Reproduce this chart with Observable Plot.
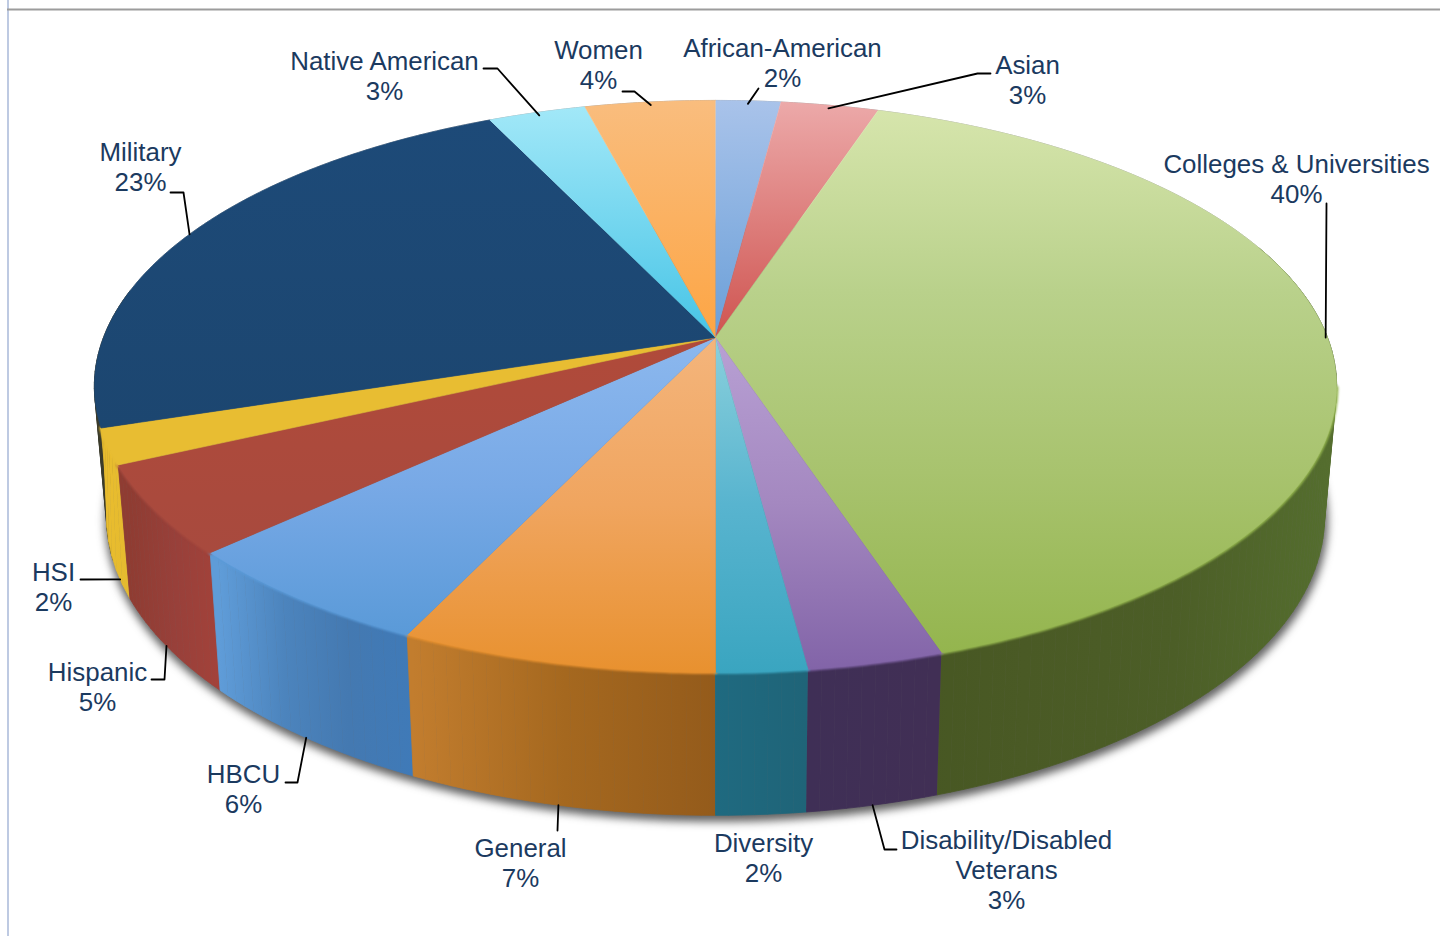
<!DOCTYPE html>
<html>
<head>
<meta charset="utf-8">
<title>Share of programs by category</title>
<script src="https://cdn.jsdelivr.net/npm/d3@7"></script>
<script src="https://cdn.jsdelivr.net/npm/@observablehq/plot@0.6"></script>
<style>
  html, body { margin: 0; padding: 0; background: #fff; }
  svg { display: block; }
</style>
</head>
<body>
<div id="chart"></div>
<script>
// Slices, clockwise from twelve o'clock.
const categories = ["African-American", "Asian", "Colleges & Universities", "Disability/Disabled\nVeterans",
  "Diversity", "General", "HBCU", "Hispanic", "HSI", "Military", "Native American", "Women"];
const shares = [2, 3, 40, 3, 2, 7, 6, 5, 2, 23, 3, 4];

// Colours of the top face (first to last stop down the slice) and of the outer wall (left to right).
const topStops = [
  ["#a9c3ea", "#6a9fd8"], ["#eca9a9", "#cf5450"], ["#d6e5ac", "#b9d18b", "#a8c36e", "#94b54e"], ["#b8a0d4", "#a488c0", "#8264a8"],
  ["#8ad0dc", "#58b4cf", "#3aa5c0"], ["#f4b57c", "#f0a55f", "#e8912f"], ["#8cb8ee", "#78a9e6", "#5a9ad8"], ["#b04a3a", "#a84a3e"], ["#e8bd32", "#e8bd32"],
  ["#1d4a78", "#1c4670"], ["#a2e8f8", "#46c4e6"], ["#f9bd7e", "#fda544"]
];
const wallStops = [
  ["#5a7fb0", "#5a7fb0"], ["#8f3a38", "#8f3a38"], ["#465622", "#4a5a25", "#4c5e27", "#546d2e"], ["#3f2f56", "#412f55"],
  ["#1f6a80", "#1f6478"], ["#c27d2e", "#a5681f", "#945b1b"], ["#5f9cd8", "#4c84bd", "#4479b1", "#3f7ab8"], ["#8f3c32", "#98403a", "#a3423a"], ["#e8bc2e", "#e4ba30"],
  ["#3a3a2a", "#3a3a2a"], ["#2a8aa8", "#2a8aa8"], ["#c07a2a", "#c07a2a"]
];

// Where each label sits and how its leader runs to the rim: label centre, leader vertices, rim used, radial reach.
const labelPlacement = [
  {cx: 782, cy: 62, leader: [[758, 88]], rim: "top", reach: 0.985},
  {cx: 1027, cy: 79, leader: [[990, 73], [977, 73]], rim: "top", reach: 0.985},
  {cx: 1296, cy: 178, leader: [[1326, 203]], rim: "top", reach: 0.997},
  {cx: 1006, cy: 869, leader: [[896, 849], [884, 849]], rim: "low", reach: 1},
  {cx: 763, cy: 857, leader: null, rim: "low", reach: 1},
  {cx: 520, cy: 862, leader: [[557, 830]], rim: "low", reach: 1},
  {cx: 243, cy: 788, leader: [[285, 782], [297, 782]], rim: "low", reach: 1},
  {cx: 97, cy: 686, leader: [[151, 679], [164, 679]], rim: "low", reach: 1},
  {cx: 53, cy: 586, leader: [[80, 579]], rim: "low", reach: 1},
  {cx: 140, cy: 166, leader: [[170, 192], [183, 192]], rim: "top", reach: 1},
  {cx: 384, cy: 75, leader: [[483, 68], [497, 68]], rim: "top", reach: 0.985},
  {cx: 598, cy: 64, leader: [[622, 91], [634, 91]], rim: "top", reach: 0.985}
];

// Extra sweep of a wall's lower edge, in radians: the yellow wall wraps round to the silhouette.
const wallSweep = [0, 0, 0, 0, 0, 0, 0, 0, 0.2, 0, 0, 0];

// The tilted disc in perspective: the near edge is larger than the far edge.
const tilt = 0.171;
const faceTop = {cx: 715, cy: 337, a: 612, b: 277.6};
const faceLow = {cx: 715, cy: 465, a: 600, b: 290};
function project(face, angle, r = 1) {
  const u = r * Math.sin(angle), v = -r * Math.cos(angle), d = 1 - tilt * v;
  return {x: face.cx + face.a * u / d, y: face.cy + face.b * v / d};
}
function arc(face, a0, a1) {
  const n = Math.max(2, Math.ceil(Math.abs(a1 - a0) / 0.01));
  return d3.range(n + 1).map(i => project(face, a0 + (a1 - a0) * i / n));
}
// Only the near part of the rim can be seen from the side.
const nearFrom = 70 / 180 * Math.PI, nearTo = 280 / 180 * Math.PI;
const bevelFrom = 100 / 180 * Math.PI, bevelTo = 255 / 180 * Math.PI;

// A wall as narrow quads, so that it also fills out to the straight silhouette.
function wallQuads(a0, a1, sweep) {
  const n = Math.max(2, Math.ceil((a1 - a0) / 0.02));
  return d3.range(n).flatMap(k => {
    const t0 = k / n, t1 = (k + 1) / n;
    const at = (face, t, extra) => project(face, a0 + (a1 + extra - a0) * t);
    return [at(faceTop, t0, 0), at(faceTop, t1, 0), at(faceLow, t1, sweep), at(faceLow, t0, sweep)]
      .map(p => ({...p, quad: k}));
  });
}

const cumulative = d3.cumsum(shares);
const slices = categories.map((name, i) => {
  const a0 = (cumulative[i] - shares[i]) / 100 * 2 * Math.PI;
  const a1 = cumulative[i] / 100 * 2 * Math.PI;
  return {
    i, name, share: shares[i], a0, a1, mid: (a0 + a1) / 2,
    top: [{x: faceTop.cx, y: faceTop.cy}, ...arc(faceTop, a0, a1)],
    wall: wallQuads(Math.max(a0, nearFrom), Math.min(a1, nearTo), wallSweep[i])
  };
});

const fullTop = arc(faceTop, 0, 2 * Math.PI);
const shadow = arc(faceLow, 0, 2 * Math.PI).map(p => ({x: p.x + 1, y: p.y + 4}));

const labels = slices.map(s => ({...labelPlacement[s.i], text: `${s.name}\n${s.share}%`}));
const leaders = slices.flatMap(s => {
  const place = labelPlacement[s.i];
  if (!place.leader) return [];
  const tip = place.rim === "top" ? project(faceTop, s.mid, place.reach) : project(faceLow, s.mid, place.reach);
  return [...place.leader.map(([x, y]) => ({x, y})), tip].map(p => ({...p, name: s.name}));
});

// Walls are painted from back to front so nearer ones cover farther ones.
const wallOrder = [9, 8, 7, 6, 5, 2, 3, 4];
const frontSlices = [2, 3, 4, 5, 6, 7, 8];

const chart = Plot.plot({
  width: 1440,
  height: 936,
  margin: 0,
  x: {domain: [0, 1440], range: [0, 1440], axis: null},
  y: {domain: [0, 936], range: [0, 936], axis: null},
  style: {background: "#fff"},
  marks: [
    Plot.ruleX([7.5], {stroke: "#a9b8d8", strokeWidth: 1.5}),
    Plot.ruleY([9], {x1: 7, x2: 1440, stroke: "#9c9c9c", strokeWidth: 2}),
    Plot.line(shadow, {x: "x", y: "y", fill: "#333", stroke: "#333", strokeWidth: 6, fillOpacity: 0.75, strokeOpacity: 0.55, imageFilter: "blur(4px)"}),
    Plot.line(fullTop, {x: "x", y: "y", stroke: "#aaa", strokeWidth: 1, fill: "none", imageFilter: "blur(0.7px)"}),
    ...wallOrder.map(i => Plot.line(slices[i].wall, {x: "x", y: "y", z: "quad", fill: `url(#wall-${i})`, stroke: `url(#wall-${i})`, strokeWidth: 0.8})),
    // Soft bevel where the top face rolls over into the wall.
    ...frontSlices.map(i => Plot.line(arc(faceTop, Math.max(slices[i].a0, bevelFrom), Math.min(slices[i].a1, bevelTo)), {
      x: "x", y: "y", stroke: topStops[i][topStops[i].length - 1], strokeWidth: 3.5, imageFilter: "blur(1.2px)"
    })),
    ...slices.map(s => Plot.line(s.top, {x: "x", y: "y", fill: `url(#top-${s.i})`, stroke: `url(#top-${s.i})`, strokeWidth: 0.6})),
    Plot.line(leaders, {x: "x", y: "y", z: "name", stroke: "#000", strokeWidth: 1.8, strokeLinejoin: "round"}),
    Plot.text(labels, {
      x: "cx", y: "cy", text: "text", textAnchor: "middle", lineAnchor: "middle", lineHeight: 1.16,
      fontFamily: "Liberation Sans", fontSize: 25.9, fill: "#1b3a5f"
    })
  ]
});

// Gradients for the faces, spanning each slice's own extent through the chart's scales.
const sx = chart.scale("x").apply, sy = chart.scale("y").apply;
const defs = d3.select(chart).insert("defs", ":first-child");
function addGradient(id, colors, x1, y1, x2, y2) {
  const g = defs.append("linearGradient").attr("id", id).attr("gradientUnits", "userSpaceOnUse")
    .attr("x1", x1).attr("y1", y1).attr("x2", x2).attr("y2", y2);
  colors.forEach((c, k) => g.append("stop").attr("offset", k / (colors.length - 1)).attr("stop-color", c));
}
slices.forEach(s => {
  const [y0, y1] = d3.extent(s.top, p => p.y);
  addGradient(`top-${s.i}`, topStops[s.i], 0, sy(y0), 0, sy(y1));
  const [x0, x1] = d3.extent(arc(faceLow, s.a0, s.a1), p => p.x);
  addGradient(`wall-${s.i}`, wallStops[s.i], sx(x0), 0, sx(x1), 0);
});

document.getElementById("chart").append(chart);
</script>
</body>
</html>
